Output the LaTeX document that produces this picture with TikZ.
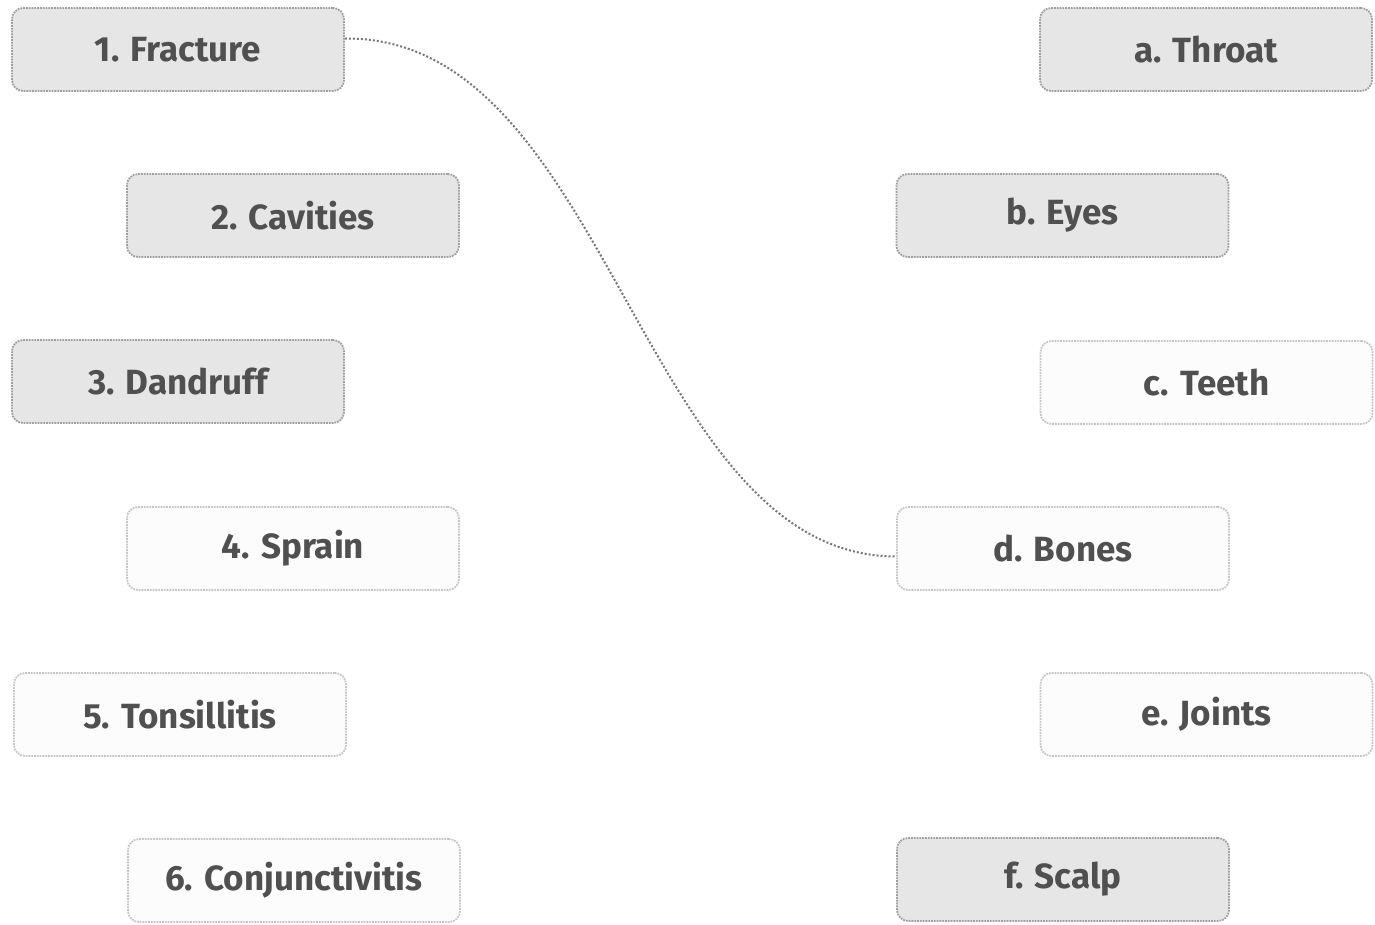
\documentclass[tikz,border=0pt]{standalone}
\usepackage{fontspec}
\setmainfont{Fira Sans}
\definecolor{boxgray}{HTML}{E6E6E6}
\definecolor{boxwhite}{HTML}{FCFCFC}
\definecolor{edgegray}{HTML}{A0A0A0}
\definecolor{txtgray}{HTML}{505050}
\definecolor{linegray}{HTML}{787878}
\tikzset{
  card/.style={draw=edgegray, densely dotted, line width=1.8pt, rounded corners=11pt,
    minimum width=332pt, minimum height=83pt, inner sep=0pt,
    font=\fontsize{35}{40}\selectfont\bfseries, text=txtgray},
  shaded/.style={card, fill=boxgray},
  plain/.style={card, fill=boxwhite, draw=edgegray!60},
  link/.style={linegray, dotted, line width=2pt}
}
\begin{document}
\begin{tikzpicture}[x=1pt,y=-1pt]
\useasboundingbox (0,0) rectangle (1375,924);
\fill[white] (0,0) rectangle (1375,924);
\node[shaded] (n1) at (178,49.5) {1. Fracture};
\node[shaded] (n2) at (293,215.5) {2. Cavities};
\node[shaded] (n3) at (178,381.5) {3. Dandruff};
\node[plain] (n4) at (293,548.5) {4. Sprain};
\node[plain] (n5) at (180,714.5) {5. Tonsillitis};
\node[plain] (n6) at (294,880.5) {6. Conjunctivitis};
\node[shaded] (na) at (1206,49.5) {a. Throat};
\node[shaded] (nb) at (1062.5,215.5) {b. Eyes};
\node[plain] (nc) at (1206.5,382.5) {c. Teeth};
\node[plain] (nd) at (1063,548.5) {d. Bones};
\node[plain] (ne) at (1206.5,714.5) {e. Joints};
\node[shaded] (nf) at (1063,879.5) {f. Scalp};
\draw[link] ([yshift=11pt]n1.east) .. controls (610,36) and (640,556) .. ([yshift=-8pt]nd.west);
\end{tikzpicture}
\end{document}
